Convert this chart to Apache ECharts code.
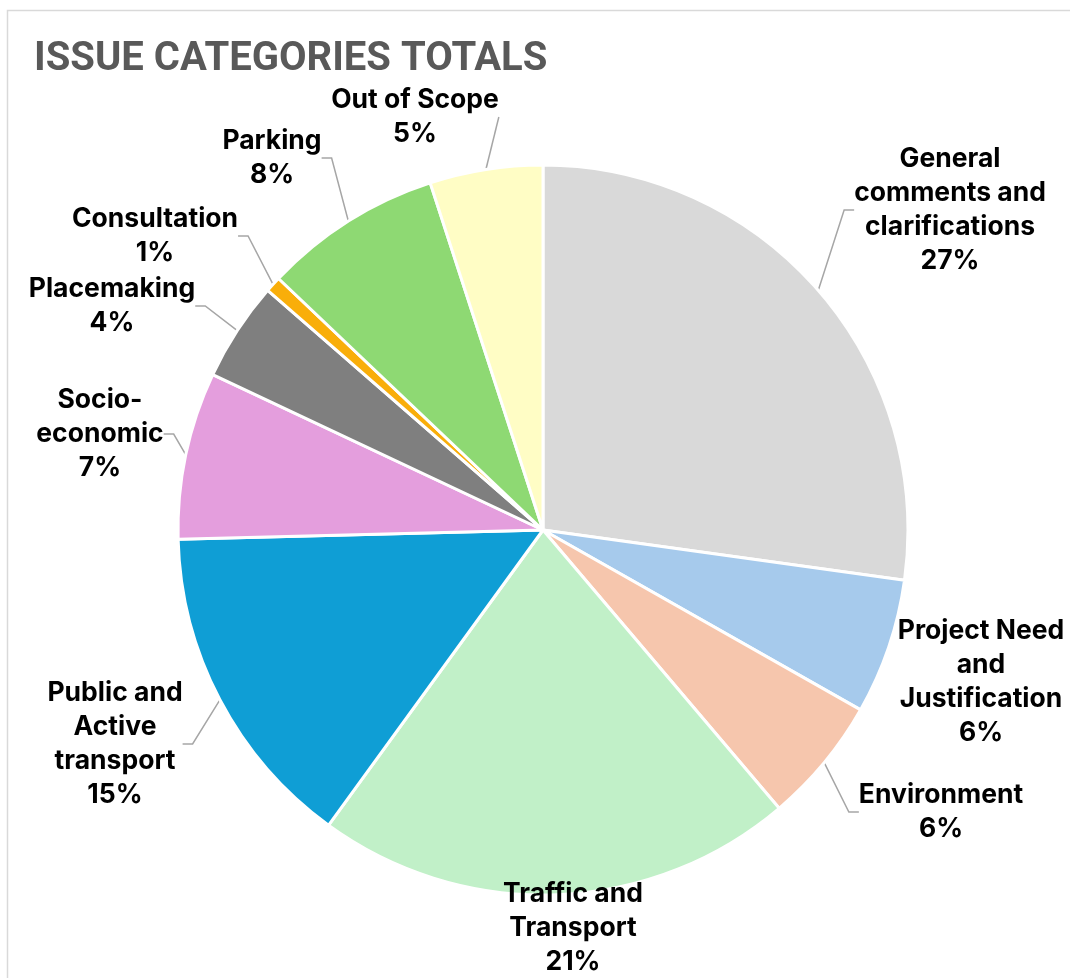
<!DOCTYPE html>
<html>
<head>
<meta charset="utf-8">
<script src="https://cdn.jsdelivr.net/npm/echarts@6/dist/echarts.min.js"></script>
<style>
  html, body { margin: 0; padding: 0; background: #fff; }
  #chart { width: 1070px; height: 978px; }
</style>
</head>
<body>
<div id="chart"></div>
<script>
// ---- Data ----
const categories = [
  "General\ncomments and\nclarifications",
  "Project Need\nand\nJustification",
  "Environment",
  "Traffic and\nTransport",
  "Public and\nActive\ntransport",
  "Socio-\neconomic",
  "Placemaking",
  "Consultation",
  "Parking",
  "Out of Scope"
];
const shares = [27.2, 6.0, 5.6, 21.2, 14.6, 7.4, 4.4, 0.7, 7.9, 5.0];
const titleText = "ISSUE CATEGORIES TOTALS";

// ---- Styles / layout (kept separate from data) ----
const colors = ["#D9D9D9", "#A6CAEC", "#F6C6AD", "#C1F0C8", "#0F9ED5",
                "#E49EDD", "#7F7F7F", "#F9AE0A", "#8ED973", "#FFFDC5"];
const labelPos = [
  [950, 210], [981, 682], [941, 812], [573, 928], [115, 744],
  [100, 434], [112, 306], [155, 236], [272, 158], [415, 117]
];
const hideLine = [false, true, false, true, false, false, false, false, false, false];

const chart = echarts.init(document.getElementById('chart'), null, { renderer: 'canvas' });

const data = categories.map((name, i) => ({
  name: name,
  value: shares[i],
  itemStyle: { color: colors[i] },
  labelLine: { show: !hideLine[i] }
}));

chart.setOption({
  animation: false,
  title: {
    text: titleText,
    left: 29,
    top: 35,
    textStyle: {
      fontFamily: 'Roboto',
      fontWeight: 'bold',
      fontSize: 40,
      color: '#595959'
    }
  },
  graphic: [{
    type: 'rect',
    shape: { x: 7.5, y: 10.5, width: 1200, height: 1200 },
    style: { fill: 'none', stroke: '#D9D9D9', lineWidth: 1.5 },
    silent: true
  }],
  series: [{
    type: 'pie',
    center: [543, 530],
    radius: [0, 365],
    startAngle: 90,
    clockwise: true,
    percentPrecision: 0,
    avoidLabelOverlap: false,
    itemStyle: { borderColor: '#ffffff', borderWidth: 3 },
    label: {
      show: true,
      position: 'outside',
      formatter: '{b}\n{d}%',
      fontFamily: 'Inter',
      fontWeight: 'bold',
      fontSize: 26.5,
      lineHeight: 34,
      color: '#000000',
      align: 'center'
    },
    labelLine: {
      show: true,
      length: 15,
      length2: 10,
      lineStyle: { color: '#A6A6A6', width: 1.5 }
    },
    labelLayout: function (params) {
      const p = labelPos[params.dataIndex];
      return { x: p[0], y: p[1], align: 'center', verticalAlign: 'middle' };
    },
    data: data
  }]
});
</script>
</body>
</html>
